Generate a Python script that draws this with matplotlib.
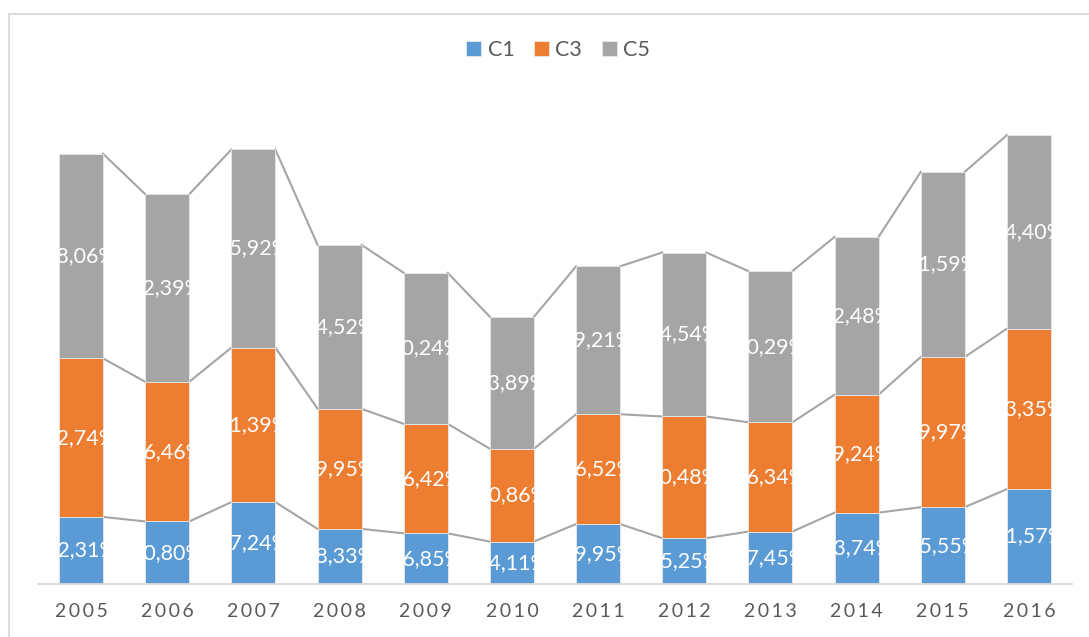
import numpy as np
import matplotlib.pyplot as plt
from matplotlib.patches import Rectangle

years = ["2005", "2006", "2007", "2008", "2009", "2010",
         "2011", "2012", "2013", "2014", "2015", "2016"]
c1 = [22.31, 20.80, 27.24, 18.33, 16.85, 14.11, 19.95, 15.25, 17.45, 23.74, 25.55, 31.57]
c3 = [52.74, 46.46, 51.39, 39.95, 36.42, 30.86, 36.52, 40.48, 36.34, 39.24, 49.97, 53.35]
c5 = [68.06, 62.39, 65.92, 54.52, 50.24, 43.89, 49.21, 54.54, 50.29, 52.48, 61.59, 64.40]
series = [("C1", c1, "#5B9BD5"), ("C3", c3, "#ED7D31"), ("C5", c5, "#A5A5A5")]

plt.rcParams['font.family'] = ['Lato', 'DejaVu Sans']

fig = plt.figure(figsize=(10.89, 6.37), dpi=100)
# chart border (cropped on right and bottom in the original)
fig.patches.append(Rectangle((8.5/1089, -10/637), 1100/1089, (637 - 13.5 + 10)/637, transform=fig.transFigure,
                             fill=False, edgecolor="#D9D9D9", lw=1.3))
ax = fig.add_axes([38/1089, 1 - 584/637, 1034/1089, 496/637])

x = np.arange(len(years))
w = 0.51
bottom = np.zeros(len(years))
handles = []
for name, vals, col in series:
  vals = np.array(vals)
  bars = ax.bar(x, vals, w, bottom=bottom, color=col, edgecolor="#E8E8E8", lw=0.6, label=name, zorder=2)
  handles.append(bars)
  for b, v, b0 in zip(bars, vals, bottom):
    t = ax.text(b.get_x() + w/2, b0 + v/2, ("%.2f%%" % v).replace(".", ","),
                ha="center", va="center", color="white", fontsize=15.5, zorder=3)
    t.set_clip_path(b)
  top = bottom + vals
  # series lines between bar corners
  for i in range(len(years) - 1):
    ax.plot([x[i] + w/2, x[i+1] - w/2], [top[i], top[i+1]], color="#A5A5A5", lw=1.5, zorder=1)
  bottom = top

ax.set_xlim(-0.5, len(years) - 0.5)
ax.set_ylim(0, 165)
ax.set_yticks([])
ax.set_xticks(x)
ax.set_xticklabels(["\u2009".join(list(y)) for y in years], color="#595959", fontsize=14)
ax.tick_params(axis="x", length=0, pad=14)
for s in ["top", "right", "left"]:
  ax.spines[s].set_visible(False)
ax.spines["bottom"].set_color("#D9D9D9")
ax.spines["bottom"].set_linewidth(1.3)

fig.legend(handles=handles, loc="center", bbox_to_anchor=(558/1089, 1 - 50/637), ncol=3, frameon=False,
           fontsize=15.5, handlelength=0.7, handleheight=0.7, handletextpad=0.3, columnspacing=0.9,
           labelcolor="#595959")

fig.savefig("out.png", dpi=100)
